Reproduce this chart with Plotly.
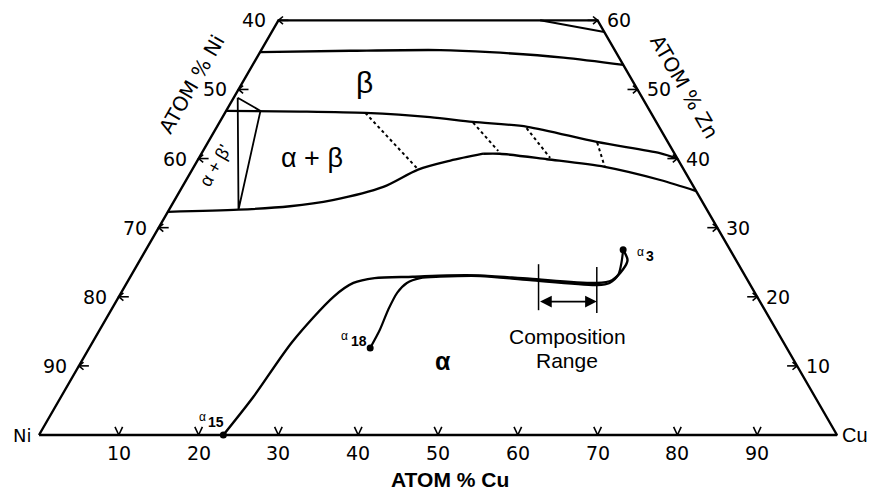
import numpy as np
import plotly.graph_objects as go

# ---------------- data (atomic %) ----------------
# axis ticks
cu_ticks = [10, 20, 30, 40, 50, 60, 70, 80, 90]           # bottom edge (Zn = 0)
cu_tick_labels = ["10", "20", "30", "40", "50", "60", "70", "80", "90"]
ni_ticks = [40, 50, 60, 70, 80, 90]                       # left edge (Cu = 0)
ni_tick_labels = ["40", "50", "60", "70", "80", "90"]
zn_ticks = [10, 20, 30, 40, 50, 60]                       # right edge (Ni = 0)
zn_tick_labels = ["10", "20", "30", "40", "50", "60"]
zn_max = 60

# phase boundaries, given as (Cu at.%, Zn at.%)
gamma_cu = [32.8, 41.7]
gamma_zn = [60.0, 58.3]

beta_top_cu = [0.0, 11.2, 22.4, 28.8, 38.4, 46.45]
beta_top_zn = [55.4, 55.6, 55.7, 55.4, 54.6, 53.55]

beta_bot_cu = [0.0, 9.3, 17.6, 26.0, 31.7, 38.9, 48.7, 57.4, 60.0]
beta_bot_zn = [46.9, 46.8, 46.6, 46.0, 45.3, 44.6, 42.4, 40.8, 40.0]

alpha_left_cu = [0.0, 8.7, 14.9, 19.8, 25.2, 28.3, 31.7, 35.3]
alpha_left_zn = [32.3, 32.6, 33.1, 34.0, 35.9, 38.4, 39.7, 40.7]
alpha_right_cu = [35.3, 37.4, 43.7, 51.5, 59.4, 64.7]
alpha_right_zn = [40.7, 40.7, 39.9, 38.8, 36.9, 35.3]

# tie lines in alpha+beta (beta end -> alpha end)
tie_beta_cu = [17.6, 31.8, 38.9, 48.8]
tie_beta_zn = [46.6, 45.2, 44.4, 42.3]
tie_alpha_cu = [28.2, 37.0, 44.0, 51.5]
tie_alpha_zn = [38.5, 41.1, 40.1, 38.8]

# alpha + beta' three-corner region
tri_cu = [0.5, 4.3, 8.7, 0.5]
tri_zn = [48.8, 46.9, 32.6, 48.8]

# diffusion paths
a15_cu = [23.1, 24.1, 25.0, 26.9, 28.4, 30.7, 35.4, 39.6, 43.7, 50.2, 58.9, 60.6, 61.2, 61.1, 59.8]
a15_zn = [0.0, 5.5, 13.5, 20.0, 22.0, 22.7, 22.9, 23.1, 23.1, 22.6, 22.0, 22.4, 23.9, 25.3, 26.8]
a18_cu = [35.2, 35.1, 34.7, 34.6, 35.1, 36.4, 38.8, 43.8, 50.3, 59.1, 60.5, 61.0, 60.5, 59.8]
a18_zn = [12.6, 15.2, 18.1, 20.6, 22.0, 22.7, 22.9, 23.0, 22.4, 21.7, 22.0, 23.2, 25.0, 26.8]
end_nums = ["15", "18", "3"]
end_cu = [23.1, 35.2, 59.8]
end_zn = [0.0, 12.6, 26.8]

# composition range on the diffusion path
range_cu = [51.4, 58.9]
range_zn = [22.4, 22.0]

# ---------------- geometry helpers ----------------
H = np.sqrt(3) / 2
PX = 1 / 798.0          # data units per screen pixel


def tern(cu, zn):
    cu = np.asarray(cu, float)
    zn = np.asarray(zn, float)
    return (cu + zn / 2) / 100.0, zn * H / 100.0


def pix(px, py):
    return (px - 39) * PX, (435 - py) * PX


fig = go.Figure()


def add_line(cu, zn, width=2.0, dash=None, spline=False):
    x, y = tern(cu, zn)
    fig.add_trace(go.Scatter(
        x=x, y=y, mode="lines",
        line=dict(color="black", width=width, dash=dash,
                  shape="spline" if spline else "linear", smoothing=0.8),
        hoverinfo="skip", showlegend=False))


# outline (trapezoid)
add_line([0, 100, 100 - zn_max, 0, 0], [0, 0, zn_max, zn_max, 0], width=2.4)

# phase boundaries
add_line(gamma_cu, gamma_zn, 2.0)
add_line(beta_top_cu, beta_top_zn, 2.3, spline=True)
add_line(beta_bot_cu, beta_bot_zn, 2.3, spline=True)
add_line(alpha_left_cu, alpha_left_zn, 2.3, spline=True)
add_line(alpha_right_cu, alpha_right_zn, 2.3, spline=True)
add_line(tri_cu, tri_zn, 1.8)
for i in range(len(tie_beta_cu)):
    add_line([tie_beta_cu[i], tie_alpha_cu[i]], [tie_beta_zn[i], tie_alpha_zn[i]],
             2.0, dash="dot")

# diffusion paths
add_line(a15_cu, a15_zn, 2.4, spline=True)
add_line(a18_cu, a18_zn, 2.2, spline=True)
ex, ey = tern(end_cu, end_zn)
fig.add_trace(go.Scatter(x=ex, y=ey, mode="markers",
                         marker=dict(color="black", size=7),
                         hoverinfo="skip", showlegend=False))

# tick marks
tx, ty = [], []
a = np.radians(25)
for c in cu_ticks:
    x0, y0 = tern(c, 0)
    L = 9 * PX
    tx += [x0 - L * np.sin(a), x0, x0 + L * np.sin(a), None]
    ty += [y0 + L * np.cos(a), y0, y0 + L * np.cos(a), None]
b = np.radians(40)
for n in ni_ticks:
    x0, y0 = tern(0, 100 - n)
    tx += [x0 + 10 * PX, x0, None, x0 + 6 * PX * np.cos(b), x0, x0 + 6 * PX * np.cos(b), None]
    ty += [y0, y0, None, y0 + 6 * PX * np.sin(b), y0, y0 - 6 * PX * np.sin(b), None]
for z in zn_ticks:
    x0, y0 = tern(100 - z, z)
    tx += [x0 - 10 * PX, x0, None, x0 - 6 * PX * np.cos(b), x0, x0 - 6 * PX * np.cos(b), None]
    ty += [y0, y0, None, y0 + 6 * PX * np.sin(b), y0, y0 - 6 * PX * np.sin(b), None]
fig.add_trace(go.Scatter(x=tx, y=ty, mode="lines",
                         line=dict(color="black", width=1.6),
                         hoverinfo="skip", showlegend=False))

ann = []
TICKFONT = dict(family="DejaVu Sans", size=19, color="black")
for c, lab in zip(cu_ticks, cu_tick_labels):
    x0, y0 = tern(c, 0)
    ann.append(dict(x=float(x0), y=float(y0), text=lab, showarrow=False,
                    yshift=-18, font=TICKFONT))
for n, lab in zip(ni_ticks, ni_tick_labels):
    x0, y0 = tern(0, 100 - n)
    ann.append(dict(x=float(x0), y=float(y0), text=lab, showarrow=False,
                    xshift=-24, font=TICKFONT))
for z, lab in zip(zn_ticks, zn_tick_labels):
    x0, y0 = tern(100 - z, z)
    ann.append(dict(x=float(x0), y=float(y0), text=lab, showarrow=False,
                    xshift=21, font=TICKFONT))

# corner labels
x0, y0 = tern(0, 0)
ann.append(dict(x=float(x0), y=float(y0), text="Ni", showarrow=False, xshift=-17,
                font=dict(family="DejaVu Sans", size=18, color="black")))
x0, y0 = tern(100, 0)
ann.append(dict(x=float(x0), y=float(y0), text="Cu", showarrow=False, xshift=18,
                font=dict(family="Liberation Sans", size=20, color="black")))

# axis titles
px_, py_ = pix(450, 479)
ann.append(dict(x=px_, y=py_, text="<b>ATOM % Cu</b>", showarrow=False,
                font=dict(family="Liberation Sans", size=21, color="black")))
px_, py_ = pix(192, 84)
ann.append(dict(x=px_, y=py_, text="ATOM % Ni", showarrow=False, textangle=-60,
                font=dict(family="DejaVu Sans", size=20, color="black")))
px_, py_ = pix(684, 86)
ann.append(dict(x=px_, y=py_, text="ATOM % Zn", showarrow=False, textangle=60,
                font=dict(family="DejaVu Sans", size=20, color="black")))

# phase labels
GF = "Liberation Sans"
for (ppx, ppy, txt, size, ang) in [
        (364, 82, "β", 30, 0),
        (312, 158, "α + β", 27, 0),
        (443, 361, "<b>α</b>", 25, 0),
        (215, 166, "α + β'", 18, -60)]:
    px_, py_ = pix(ppx, ppy)
    ann.append(dict(x=px_, y=py_, text=txt, showarrow=False, textangle=ang,
                    font=dict(family=GF, size=size, color="black")))

# path end labels: small alpha + bold number
for (apx, apy, npx, npy, num) in [(202, 417, 216, 422, end_nums[0]),
                                  (344, 336, 359, 341, end_nums[1]),
                                  (640, 252, 650, 256, end_nums[2])]:
    px_, py_ = pix(apx, apy)
    ann.append(dict(x=px_, y=py_, text="α", showarrow=False,
                    font=dict(family=GF, size=12, color="black")))
    px_, py_ = pix(npx, npy)
    ann.append(dict(x=px_, y=py_, text="<b>" + num + "</b>", showarrow=False,
                    font=dict(family=GF, size=14, color="black")))

# composition range markers
rx, ry = tern(range_cu, range_zn)
bx, by = [], []
for xi, yi in zip(rx, ry):
    bx += [xi, xi, None]
    by += [yi + 16 * PX, yi - 30 * PX, None]
fig.add_trace(go.Scatter(x=bx, y=by, mode="lines",
                         line=dict(color="black", width=1.5),
                         hoverinfo="skip", showlegend=False))
arrow_y = float(np.mean(ry) - 20 * PX)
ann.append(dict(x=float(rx[1]), y=arrow_y, ax=float(rx[0]), ay=arrow_y,
                xref="x", yref="y", axref="x", ayref="y", text="",
                showarrow=True, arrowhead=2, arrowside="end+start",
                arrowsize=1.3, arrowwidth=1.8, arrowcolor="black"))
px_, py_ = pix(567, 336)
ann.append(dict(x=px_, y=py_, text="Composition", showarrow=False,
                font=dict(family=GF, size=21, color="black")))
px_, py_ = pix(567, 360)
ann.append(dict(x=px_, y=py_, text="Range", showarrow=False,
                font=dict(family=GF, size=21, color="black")))

fig.update_layout(
    width=870, height=502, autosize=False,
    margin=dict(l=0, r=0, t=0, b=0),
    paper_bgcolor="white", plot_bgcolor="white",
    xaxis=dict(visible=False, range=[-39 * PX, 831 * PX], fixedrange=True),
    yaxis=dict(visible=False, range=[-67 * PX, 435 * PX], fixedrange=True),
    annotations=ann,
    showlegend=False,
)

fig.write_html("out.html")
